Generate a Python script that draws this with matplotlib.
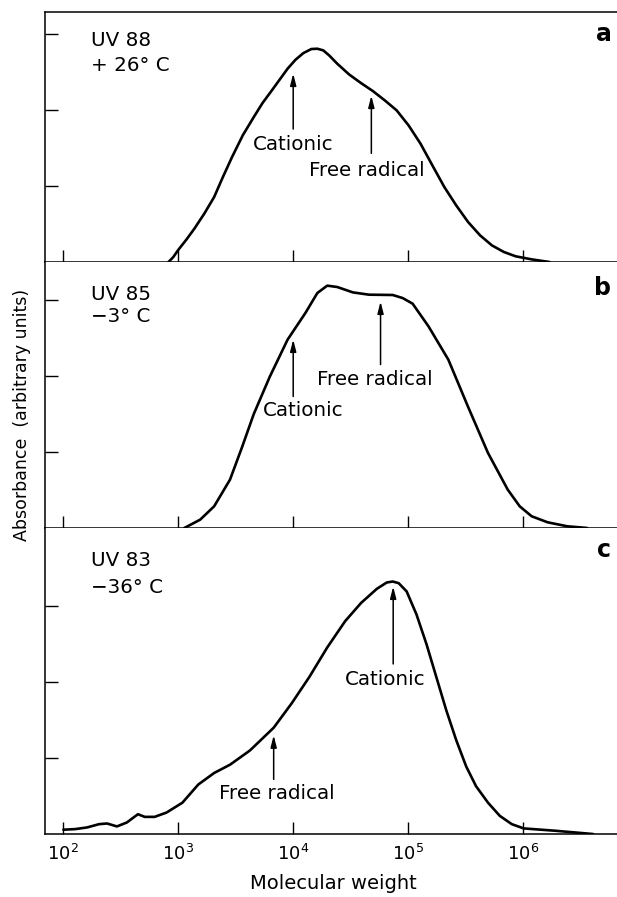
import numpy as np
import matplotlib
matplotlib.use("Agg")
import matplotlib.pyplot as plt

plt.rcParams['font.family'] = ['DejaVu Sans']
plt.rcParams['mathtext.default'] = 'regular'

# log10(molecular weight) and absorbance (arbitrary units)
a_logmw = [2.915, 2.957, 3.001, 3.07, 3.14, 3.226, 3.312, 3.388, 3.468, 3.561, 3.657,
           3.733, 3.81, 3.882, 3.951, 4.02, 4.089, 4.158, 4.21, 4.262, 4.313, 4.383,
           4.486, 4.59, 4.693, 4.797, 4.90, 5.004, 5.108, 5.211, 5.315, 5.418, 5.522,
           5.626, 5.729, 5.833, 5.936, 6.075, 6.23]
a_abs = [0.0, 0.066, 0.162, 0.294, 0.439, 0.636, 0.855, 1.118, 1.382, 1.667, 1.908,
         2.092, 2.25, 2.40, 2.544, 2.662, 2.75, 2.803, 2.807, 2.785, 2.719, 2.61,
         2.469, 2.355, 2.25, 2.127, 1.996, 1.798, 1.557, 1.272, 0.987, 0.746, 0.526,
         0.351, 0.219, 0.132, 0.075, 0.035, 0.0]

b_logmw = [3.053, 3.191, 3.312, 3.45, 3.554, 3.657, 3.796, 3.951, 4.106, 4.21, 4.296,
           4.383, 4.52, 4.66, 4.866, 4.952, 5.039, 5.177, 5.35, 5.52, 5.695, 5.867,
           5.971, 6.075, 6.213, 6.385, 6.558]
b_abs = [0.0, 0.11, 0.285, 0.636, 1.06, 1.50, 1.99, 2.478, 2.829, 3.092, 3.189,
         3.171, 3.10, 3.07, 3.066, 3.026, 2.952, 2.654, 2.215, 1.60, 0.987, 0.504,
         0.285, 0.154, 0.075, 0.022, 0.0]

c_logmw = [2.0, 2.104, 2.207, 2.311, 2.38, 2.466, 2.552, 2.649, 2.708, 2.794, 2.898,
           3.036, 3.174, 3.312, 3.45, 3.623, 3.83, 3.986, 4.141, 4.296, 4.452, 4.59,
           4.728, 4.814, 4.866, 4.918, 4.987, 5.073, 5.16, 5.246, 5.332, 5.418, 5.505,
           5.591, 5.695, 5.798, 5.902, 6.006, 6.282, 6.61]
c_abs = [0.057, 0.065, 0.087, 0.130, 0.139, 0.10, 0.152, 0.261, 0.226, 0.226, 0.283,
         0.413, 0.652, 0.804, 0.913, 1.10, 1.40, 1.72, 2.07, 2.457, 2.804, 3.043,
         3.23, 3.313, 3.326, 3.304, 3.196, 2.891, 2.50, 2.065, 1.63, 1.239, 0.891,
         0.63, 0.413, 0.239, 0.13, 0.074, 0.043, 0.0]

sample_names = ['UV 88', 'UV 85', 'UV 83']
temperatures = ['+ 26° C', '\u22123° C', '\u221236° C']
panel_letters = ['a', 'b', 'c']

# arrow markers: (label, log10 MW, arrow tail, arrow head, text x, text y)
a_marks = [('Cationic', 4.0, 1.75, 2.48, 4.0, 1.54),
           ('Free radical', 4.68, 1.43, 2.19, 4.64, 1.21)]
b_marks = [('Cationic', 4.0, 1.73, 2.48, 4.09, 1.54),
           ('Free radical', 4.76, 2.15, 2.98, 4.71, 1.96)]
c_marks = [('Cationic', 4.87, 2.24, 3.26, 4.80, 2.04),
           ('Free radical', 3.83, 0.72, 1.30, 3.86, 0.54)]

xtick_exp = [2, 3, 4, 5, 6]

fig = plt.figure(figsize=(6.17, 8.97), dpi=100)

# panel boxes in figure fractions: left, bottom, width, height
boxes = [(0.0729, 0.7079, 0.935, 0.2787),
         (0.0729, 0.4114, 0.935, 0.2965),
         (0.0729, 0.0702, 0.935, 0.3411)]
ytops = [3.29, 3.5, 4.03]
name_y = [(2.92, 2.59), (3.07, 2.78), (3.6, 3.25)]
letter_y = [3.0, 3.16, 3.74]

curves = [(a_logmw, a_abs), (b_logmw, b_abs), (c_logmw, c_abs)]
marks = [a_marks, b_marks, c_marks]

for i in range(3):
    ax = fig.add_axes(boxes[i])
    logmw, ab = curves[i]
    ax.plot(10 ** np.array(logmw), ab, color='black', lw=1.9,
            solid_capstyle='round', solid_joinstyle='round')
    ax.set_xscale('log')
    ax.set_xlim(10 ** 1.84, 10 ** 6.86)
    ax.set_ylim(0, ytops[i])
    ax.set_yticks([1, 2, 3])
    ax.set_yticklabels([])
    ax.set_xticks([10.0 ** e for e in xtick_exp])
    ax.minorticks_off()
    ax.tick_params(direction='in', length=9, width=1, top=False, right=False)
    ax.spines['right'].set_visible(False)
    if i > 0:
        ax.spines['top'].set_visible(False)
    for s in ax.spines.values():
        s.set_linewidth(1.1)
    if i < 2:
        ax.set_xticklabels([])
    else:
        ax.set_xticklabels(['$10^{%d}$' % e for e in xtick_exp], fontsize=13)
        ax.tick_params(axis='x', pad=7)
        ax.set_xlabel('Molecular weight', fontsize=14, labelpad=7)

    ax.text(10 ** 2.24, name_y[i][0], sample_names[i], fontsize=14.3, va='center')
    ax.text(10 ** 2.24, name_y[i][1], temperatures[i], fontsize=14.3, va='center')
    ax.text(0.982, letter_y[i], panel_letters[i], fontsize=17, fontweight='bold',
            va='center', ha='right', transform=ax.get_yaxis_transform())

    for label, xm, y0, y1, tx, ty in marks[i]:
        ax.annotate('', xy=(10 ** xm, y1), xytext=(10 ** xm, y0),
                    arrowprops=dict(arrowstyle='-|>,head_length=0.7,head_width=0.18',
                                    color='black', lw=1.1, shrinkA=0, shrinkB=0))
        ax.text(10 ** tx, ty, label, fontsize=14.3, ha='center', va='center')

fig.text(0.036, 0.537, 'Absorbance  (arbitrary units)', rotation=90, fontsize=12.5,
         ha='center', va='center')

fig.savefig('out.png', dpi=100)
